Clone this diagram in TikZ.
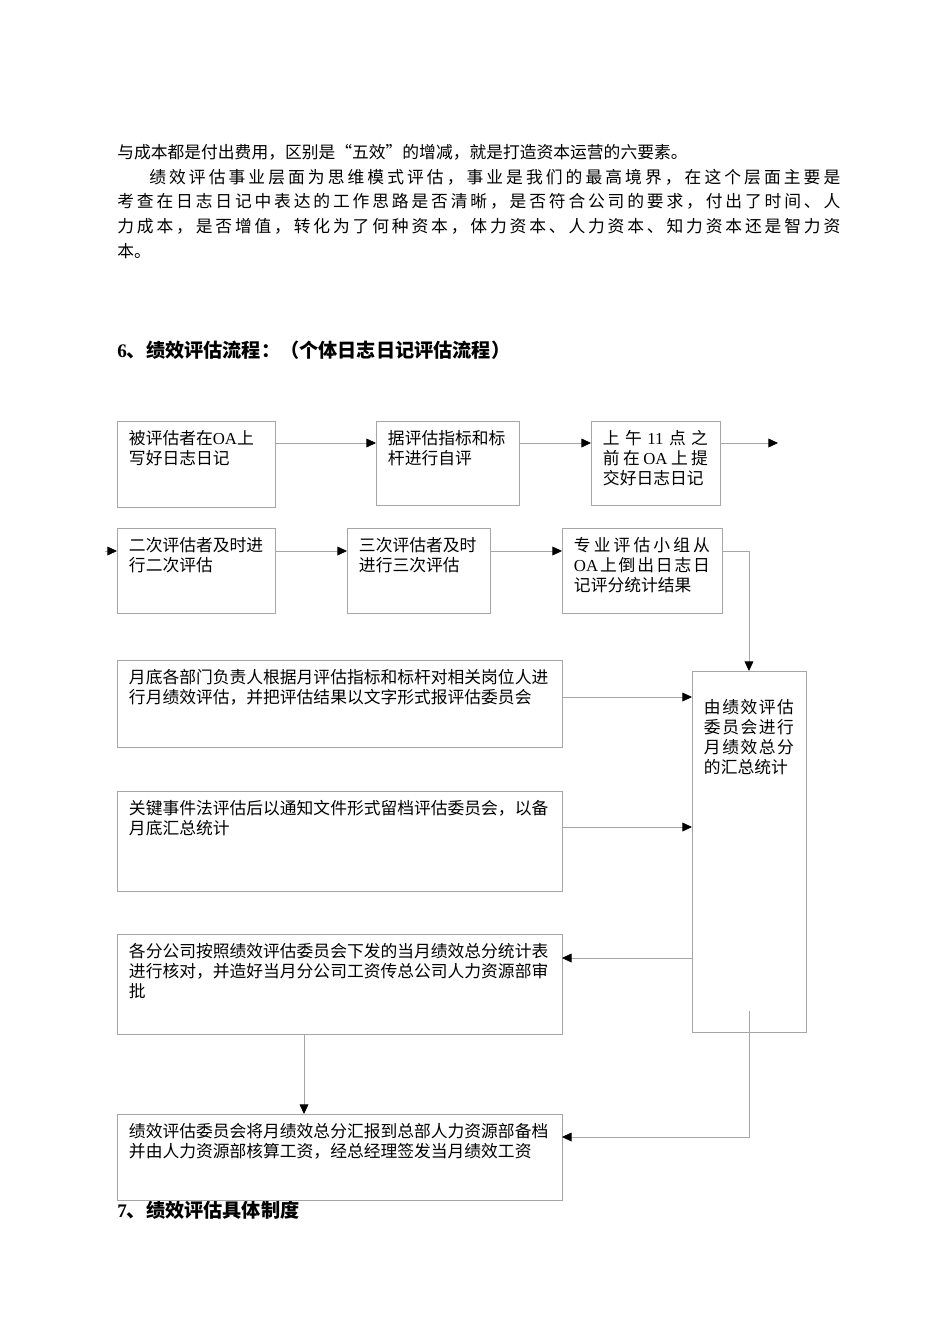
\documentclass[tikz,border=0pt]{standalone}
\usepackage{fontspec}
\setmainfont{Liberation Serif}
\newfontfamily\cjk{Noto Sans CJK SC}
\usetikzlibrary{arrows.meta}

\newdimen\pxu
\pxu=0.626pt
\def\spreadchars#1{\ifx#1\relax\else#1\hfil\expandafter\spreadchars\fi}
\newcommand{\boxtext}[4][0]{\parbox[c][#3\pxu][t]{\dimexpr#2\pxu-24\pxu\relax}{\cjk\fontsize{10.5pt}{12.5pt}\selectfont\vspace*{\dimexpr9\pxu+#1\pxu\relax}#4}}
\newcommand{\zeile}[1]{\hbox to\linewidth{#1\hfil}}
\newcommand{\voll}[1]{\hbox to\linewidth{#1}}

\tikzset{
  stepbox/.style={draw=gray!70, line width=0.5pt, anchor=north west, inner xsep=7.5pt, inner ysep=0pt, outer sep=0pt},
  flow/.style={draw=gray!70, line width=0.5pt, -{Triangle[black,length=6pt,width=5.5pt]}},
  heading/.style={anchor=base west, inner sep=0pt, font=\cjk\fontsize{12pt}{14pt}\selectfont\bfseries}
}

\begin{document}
\begin{tikzpicture}[x=0.626pt,y=-0.626pt]
\useasboundingbox (0,0) rectangle (950,1344);

%Text oben
\node[anchor=base west, inner sep=0pt] (para) at (117,158.4) {\parbox[t]{723\pxu}{\cjk\fontsize{10.5pt}{15.5pt}\selectfont
\hbox to 569\pxu{\spreadchars 与成本都是付出费用，区别是“五效”的增减，就是打造资本运营的六要素。\relax\unskip}
\hbox to 723\pxu{\kern32\pxu\spreadchars 绩效评估事业层面为思维模式评估，事业是我们的最高境界，在这个层面主要是\relax\unskip}
\hbox to 723\pxu{\spreadchars 考查在日志日记中表达的工作思路是否清晰，是否符合公司的要求，付出了时间、人\relax\unskip}
\hbox to 723\pxu{\spreadchars 力成本，是否增值，转化为了何种资本，体力资本、人力资本、知力资本还是智力资\relax\unskip}
\hbox{本。}}};

\node[heading] (head6) at (117,357) {{\rmfamily 6}、绩效评估流程：（个体日志日记评估流程）};
\node[heading] (head7) at (117,1217) {{\rmfamily 7}、绩效评估具体制度};

%Erste Reihe
\node[stepbox] (b1) at (117,421) {\boxtext{158}{86}{\zeile{被评估者在{\rmfamily OA}上}\zeile{写好日志日记}}};
\node[stepbox] (b2) at (376,421) {\boxtext{143}{84}{\zeile{据评估指标和标}\zeile{杆进行自评}}};
\node[stepbox] (b3) at (591,421) {\boxtext{129}{84}{\voll{上\hfill 午\hfill{\rmfamily 11}\hfill 点\hfill 之}\voll{前\hfill 在\hfill{\rmfamily OA}\hfill 上\hfill 提}\zeile{交好日志日记}}};

%Zweite Reihe
\node[stepbox] (b4) at (117,528) {\boxtext{158}{85}{\zeile{二次评估者及时进}\zeile{行二次评估}}};
\node[stepbox] (b5) at (347,528) {\boxtext{143}{85}{\zeile{三次评估者及时}\zeile{进行三次评估}}};
\node[stepbox] (b6) at (562,528) {\boxtext{160}{85}{\voll{\spreadchars 专业评估小组从\relax\unskip}\voll{{\rmfamily OA}\hfill 上\hfill 倒\hfill 出\hfill 日\hfill 志\hfill 日}\zeile{记评分统计结果}}};

%Auswertung
\node[stepbox] (b7) at (692,671) {\boxtext[19]{114}{361}{\voll{\spreadchars 由绩效评估\relax\unskip}\voll{\spreadchars 委员会进行\relax\unskip}\voll{\spreadchars 月绩效总分\relax\unskip}\zeile{的汇总统计}}};
\node[stepbox] (b8) at (117,660) {\boxtext{445}{87}{\zeile{月底各部门负责人根据月评估指标和标杆对相关岗位人进}\zeile{行月绩效评估，并把评估结果以文字形式报评估委员会}}};
\node[stepbox] (b9) at (117,791) {\boxtext{445}{100}{\zeile{关键事件法评估后以通知文件形式留档评估委员会，以备}\zeile{月底汇总统计}}};
\node[stepbox] (b10) at (117,934) {\boxtext{445}{100}{\zeile{各分公司按照绩效评估委员会下发的当月绩效总分统计表}\zeile{进行核对，并造好当月分公司工资传总公司人力资源部审}\zeile{批}}};
\node[stepbox] (b11) at (117,1114) {\boxtext{445}{86}{\zeile{绩效评估委员会将月绩效总分汇报到总部人力资源部备档}\zeile{并由人力资源部核算工资，经总经理签发当月绩效工资}}};

%Hilfspunkte
\coordinate (r1) at (0,443);
\coordinate (r2) at (0,551);
\coordinate (r3) at (0,697);
\coordinate (r4) at (0,827);
\coordinate (r5) at (0,958);
\coordinate (r6) at (0,1137);
\coordinate (c1) at (304,0);
\coordinate (exit) at (778,443);
\coordinate (entry) at (105,551);
\coordinate (tail) at (749,1011);

%Pfeile
\foreach \a/\b in {b1/b2, b2/b3}
	\draw[flow] (\a.east |- r1) -- (\b.west |- r1);
\draw[flow] (b3.east |- r1) -- (exit);
\draw[flow] (entry) -- (b4.west |- r2);
\foreach \a/\b in {b4/b5, b5/b6}
	\draw[flow] (\a.east |- r2) -- (\b.west |- r2);
\draw[flow] (b6.east |- r2) -| (b7.north);
\foreach \a/\y in {b8/r3, b9/r4}
	\draw[flow] (\a.east |- \y) -- (b7.west |- \y);
\draw[flow] (b7.west |- r5) -- (b10.east |- r5);
\draw[flow] (b10.south -| c1) -- (b11.north -| c1);
\draw[flow] (tail) |- (b11.east |- r6);

\end{tikzpicture}
\end{document}
